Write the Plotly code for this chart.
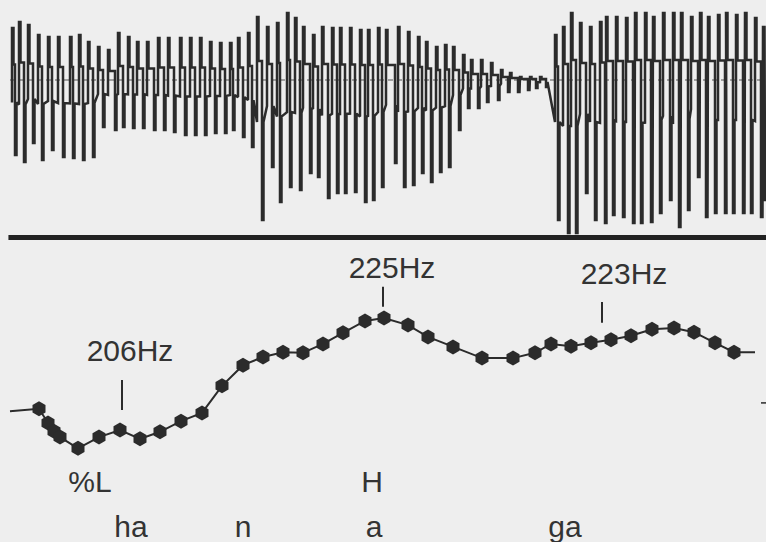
import plotly.graph_objects as go

# ---------------- waveform (time in ms, amplitude in arbitrary units) ----------------
up_t = [12, 19, 28, 38, 48, 58, 70, 79, 88, 98, 108, 118, 128, 137, 147, 158, 168, 180, 190, 200, 210, 220, 230, 238, 248,
        257, 267, 277, 287, 295, 303, 313, 322, 332, 340, 350, 360, 368, 378,
        386, 398, 408, 418, 426, 436, 445, 453, 463, 471, 481, 491, 501, 510, 520, 530, 540,
        555, 563, 571, 580, 590, 600, 606, 616, 626, 635, 645, 653, 663, 673, 681, 691, 700, 708, 718, 726, 736, 745, 755, 763]
up_amp = [52, 58, 55, 45, 43, 43, 43, 45, 38, 33, 30, 47, 43, 38, 38, 42, 42, 42, 42, 42, 38, 37, 37, 42, 47,
          63, 53, 57, 67, 62, 53, 45, 53, 52, 52, 52, 50, 50, 52,
          50, 53, 48, 43, 38, 33, 35, 33, 25, 20, 20, 17, 10, 7, 3, 3, 3,
          45, 53, 67, 57, 53, 58, 63, 63, 62, 67, 67, 63, 67, 67, 67, 63, 67, 63, 65, 67, 65, 67, 62, 53]
down_t = [15, 24, 33, 42, 52, 63, 73, 83, 93, 103, 115, 123, 133, 143, 154, 164, 174, 185, 195, 205, 215, 225, 233, 243, 252,
          262, 272, 280, 290, 300, 310, 318, 328, 337, 345, 355, 365, 373, 382,
          395, 404, 413, 422, 431, 440, 449, 459, 468, 478, 487, 498, 508, 518, 528, 536, 546,
          558, 568, 576, 586, 595, 605, 613, 623, 633, 641, 651, 660, 670, 679, 688, 698, 706, 715, 725, 733, 743, 751, 761, 765]
down_amp = [-75, -82, -63, -80, -70, -77, -78, -80, -77, -47, -50, -47, -48, -48, -50, -50, -52, -55, -55, -55, -53, -53, -50, -57, -67,
            -140, -87, -122, -107, -110, -93, -97, -118, -113, -113, -112, -122, -120, -107,
            -83, -107, -105, -93, -102, -92, -87, -50, -28, -28, -22, -20, -12, -12, -10, -8, -7,
            -140, -153, -153, -113, -140, -143, -135, -137, -143, -143, -142, -133, -120, -147, -130, -97, -137, -133, -133, -133, -133, -133, -137, -120]

# ---------------- pitch contour (time in ms, F0 in Hz) ----------------
f0_t = [39, 48, 54, 60, 78, 99, 120, 140, 160, 181, 202, 222, 243, 263, 283, 303, 323, 343, 365, 384,
        408, 428, 453, 482, 513, 535, 551, 571, 591, 611, 631, 652, 674, 694, 715, 734]
f0_hz = [209.6, 207.2, 205.8, 204.8, 202.9, 204.8, 206.0, 204.5, 205.7, 207.5, 208.9, 213.5, 217.0, 218.4, 219.2, 219.1,
         220.6, 222.5, 224.5, 225.0, 223.8, 221.8, 220.1, 218.2, 218.2, 219.1, 220.6, 220.2, 220.8, 221.3, 222.0, 223.1,
         223.3, 222.6, 220.8, 219.2]
contour_start = (10, 209.2)
contour_end = (755, 219.2)

# peak labels
peak_text = ["206Hz", "225Hz", "223Hz"]
peak_label_t = [130, 392, 624]
peak_label_hz = [218.9, 233.0, 232.1]
peak_tick_t = [122, 383, 602]
peak_tick_top = [214.5, 230.3, 227.7]
peak_tick_bot = [209.4, 226.9, 224.2]

tone_text = ["%L", "H"]
tone_t = [90, 372]
tone_hz = [196.8, 196.8]

syll_text = ["ha", "n", "a", "ga"]
syll_t = [131, 243, 374, 565]
syll_hz = [189.1, 189.1, 189.1, 189.1]

INK = "#2b2b2b"
BG = "#eeeeee"
FONT = "Liberation Sans, Arial, sans-serif"

# build the stepped waveform path from the pulse arrays
wx, wy = [], []
for tu, au, td, ad in zip(up_t, up_amp, down_t, down_amp):
    lo = ad * 0.3
    hi = au * 0.3
    wx += [tu, tu, tu + 1.5, tu + 1.5, td, td, td + 1.5, td + 1.5]
    wy += [lo, au, au, hi, hi, ad, ad, lo]

fig = go.Figure()

# dashed zero line
fig.add_trace(go.Scatter(x=[10, 766], y=[0, 0], mode="lines",
                         line=dict(color="#555555", width=1, dash="5px,4px"),
                         xaxis="x", yaxis="y", hoverinfo="skip", showlegend=False))
fig.add_trace(go.Scatter(x=wx, y=wy, mode="lines",
                         line=dict(color=INK, width=2.5),
                         xaxis="x", yaxis="y", hoverinfo="skip", showlegend=False))

# pitch contour line
fig.add_trace(go.Scatter(x=[contour_start[0]] + f0_t + [contour_end[0]],
                         y=[contour_start[1]] + f0_hz + [contour_end[1]],
                         mode="lines", line=dict(color=INK, width=2),
                         xaxis="x", yaxis="y2", hoverinfo="skip", showlegend=False))
fig.add_trace(go.Scatter(x=f0_t, y=f0_hz, mode="markers",
                         marker=dict(symbol="hexagon", size=15, color=INK, line=dict(width=0)),
                         xaxis="x", yaxis="y2", showlegend=False))

# peak tick marks
tx, ty = [], []
for t, a, b in zip(peak_tick_t, peak_tick_top, peak_tick_bot):
    tx += [t, t, None]
    ty += [a, b, None]
fig.add_trace(go.Scatter(x=tx, y=ty, mode="lines", line=dict(color=INK, width=2),
                         xaxis="x", yaxis="y2", hoverinfo="skip", showlegend=False))

# small edge mark at the right
fig.add_trace(go.Scatter(x=[761, 766], y=[210.6, 210.6], mode="lines", line=dict(color=INK, width=1.5),
                         xaxis="x", yaxis="y2", hoverinfo="skip", showlegend=False))

txtfont = dict(family=FONT, size=30, color="#333333")
for xs, ys, ts in [(peak_label_t, peak_label_hz, peak_text),
                   (tone_t, tone_hz, tone_text),
                   (syll_t, syll_hz, syll_text)]:
    fig.add_trace(go.Scatter(x=xs, y=ys, text=ts, mode="text", textposition="middle center",
                             textfont=txtfont, xaxis="x", yaxis="y2",
                             hoverinfo="skip", showlegend=False, cliponaxis=False))

H = 542
split = 242
fig.update_layout(
    width=766, height=542,
    margin=dict(l=0, r=0, t=0, b=0),
    paper_bgcolor=BG, plot_bgcolor=BG,
    xaxis=dict(range=[0, 766], visible=False, fixedrange=True),
    yaxis=dict(domain=[1 - split / H, 1], range=[-162, 80], visible=False),
    yaxis2=dict(domain=[0, 1 - split / H], range=[187.0, 237.9], visible=False),
    shapes=[dict(type="line", xref="paper", yref="y", x0=0.011, x1=1, y0=-157.5, y1=-157.5,
                 line=dict(color="#222222", width=5))],
)

fig.write_html("out.html", config={"displayModeBar": False},
               post_script="document.body.style.margin='0';document.body.style.background='#eeeeee';")
